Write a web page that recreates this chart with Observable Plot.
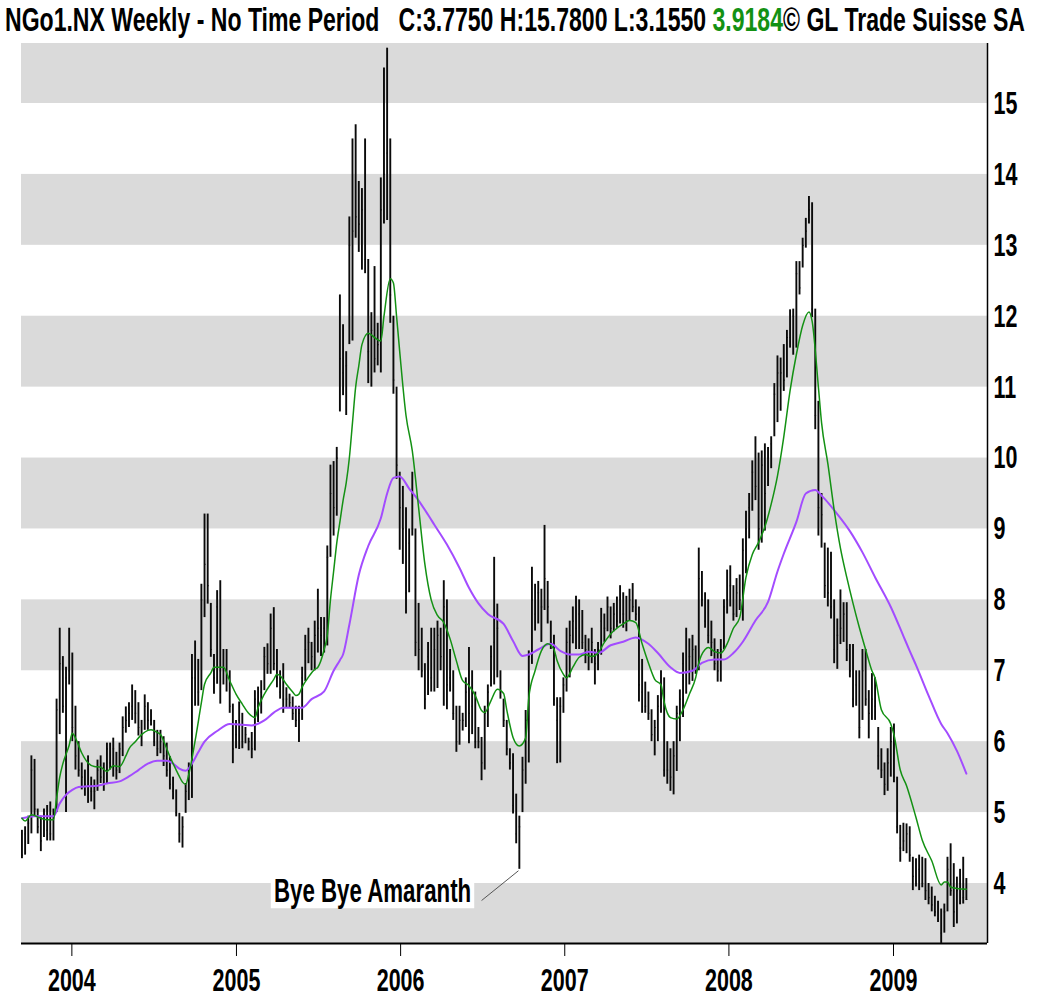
<!DOCTYPE html>
<html><head><meta charset="utf-8">
<script src="https://cdn.jsdelivr.net/npm/d3@7"></script>
<script src="https://cdn.jsdelivr.net/npm/@observablehq/plot@0.6"></script>
<style>
body{margin:0;background:#fff;}
#wrap{position:relative;width:1045px;height:997px;overflow:hidden;}
#title{position:absolute;left:5px;top:3.6px;white-space:pre;font-family:"Liberation Sans",Arial,sans-serif;font-weight:bold;font-size:21.5px;line-height:1;transform-origin:0 0;color:#000;}
</style></head><body>
<div id="wrap"><div id="chart"></div><div id="title">NGo1.NX Weekly - No Time Period   C:3.7750 H:15.7800 L:3.1550 <span style="color:#139113">3.9184</span>© GL Trade Suisse SA</div></div>
<script>
// ---- data ----
const firstWeek = "2003-09-12";
const highs = [4.75,4.8,4.95,5.8,5.75,5.05,4.95,5.05,5.1,5.15,
5.05,6.6,7.6,7.2,7.05,7.6,7.25,6.5,6.0,5.7,
5.6,5.8,5.5,5.46,5.74,5.8,5.7,5.98,5.98,6.05,
5.85,5.98,6.35,6.49,6.55,6.8,6.72,6.55,6.3,6.66,
6.55,6.45,6.3,6.16,6.16,6.07,5.98,5.79,5.5,5.32,
4.99,4.94,5.41,5.7,7.23,7.42,7.16,8.22,9.21,9.21,
7.95,7.23,8.13,8.27,7.3,7.3,7.0,6.53,6.3,6.56,
6.4,6.2,6.05,6.13,6.72,6.77,6.86,7.33,7.38,7.8,
7.89,7.3,7.0,7.1,6.76,6.67,6.63,6.5,6.5,7.05,
7.5,7.6,7.4,7.7,8.15,7.75,7.75,8.76,9.9,9.95,
10.15,12.3,11.88,11.5,13.4,14.5,14.7,13.9,13.8,14.5,
12.8,12.05,12.7,11.9,13.95,15.5,15.78,14.5,12.0,11.0,
9.8,9.6,9.3,9.0,9.8,9.0,7.95,7.6,7.1,7.4,
7.6,7.6,7.7,7.6,8.27,8.0,7.3,7.0,6.5,6.5,
6.4,6.9,7.33,7.0,6.7,6.2,6.06,6.5,6.8,7.35,
8.6,7.94,7.0,6.6,6.3,5.9,5.83,5.26,4.95,5.78,
6.44,7.28,8.46,8.22,8.26,8.15,9.05,8.26,7.7,7.5,
6.62,6.62,6.9,7.6,7.7,7.9,8.05,8.0,7.85,7.5,
7.45,7.6,7.3,7.4,7.88,7.8,8.04,7.9,7.95,8.04,
8.2,8.1,8.05,8.15,8.23,8.0,7.9,7.16,6.84,6.7,
6.45,6.3,6.65,7.0,6.9,6.0,5.9,6.0,6.5,6.73,
7.25,7.6,7.45,7.5,7.35,8.73,8.4,8.1,8.0,7.7,
7.45,7.3,7.44,8.0,8.42,8.48,8.2,8.3,8.35,8.86,
9.25,9.5,9.96,10.3,10.07,10.1,10.2,10.15,10.3,11.05,
11.44,11.41,11.6,11.8,12.09,12.1,12.77,12.77,13.1,13.38,
13.69,13.6,12.1,10.8,9.5,8.8,8.73,8.67,8.0,7.73,
8.14,7.96,7.96,7.37,7.37,7.0,7.0,7.3,7.3,6.72,
6.96,6.9,6.2,5.9,5.7,5.9,6.2,6.25,5.5,4.82,
4.85,4.84,4.8,4.37,4.35,4.4,4.37,4.35,4.0,3.95,
3.82,3.75,3.64,3.71,4.37,4.56,4.28,4.09,4.2,4.37,
4.07];
const lows = [4.35,4.4,4.55,4.7,4.95,4.7,4.45,4.65,4.6,4.6,
4.6,5.0,6.1,6.4,5.0,6.8,6.0,5.6,5.5,5.32,
5.23,5.13,5.15,5.04,5.3,5.41,5.3,5.41,5.6,5.5,
5.46,5.55,5.79,6.12,6.2,6.3,6.25,6.08,5.93,6.16,
6.16,6.22,5.93,5.79,5.83,5.65,5.5,5.32,5.18,4.94,
4.57,4.5,4.99,5.17,5.2,6.5,6.5,6.72,7.75,7.94,
7.19,6.67,6.81,6.53,6.8,6.7,6.4,5.69,5.9,5.89,
5.9,5.97,5.87,5.76,5.87,6.27,6.39,6.72,6.95,6.95,
7.0,6.76,6.6,6.4,6.48,6.48,6.3,6.2,5.99,6.3,
6.85,7.1,7.0,7.0,7.25,7.2,7.25,7.35,8.6,8.9,
9.18,10.65,10.88,10.6,11.6,11.65,13.1,12.9,12.65,12.6,
11.05,11.0,11.2,11.3,11.2,13.3,13.35,11.9,10.9,9.7,
8.7,8.5,7.8,8.1,8.9,7.2,7.0,6.9,6.45,6.65,
6.7,6.7,6.75,7.0,6.5,6.45,6.7,6.3,5.85,5.95,
6.15,6.2,5.97,6.1,5.9,5.9,5.45,5.6,6.2,6.77,
6.8,6.9,6.6,6.2,5.8,5.6,4.98,4.56,4.2,5.0,
5.4,5.7,7.09,7.56,7.66,7.4,7.85,7.66,7.3,6.5,
5.69,5.7,6.4,6.7,6.9,7.38,7.3,7.3,7.3,7.1,
7.0,7.1,6.8,7.0,7.22,7.4,7.55,7.45,7.55,7.6,
7.66,7.6,7.55,7.7,7.82,7.7,6.56,6.4,6.4,6.3,
6.0,5.8,6.0,6.4,5.5,5.4,5.3,5.25,5.58,6.0,
6.34,6.67,6.8,6.85,6.95,7.0,7.9,7.6,7.38,7.2,
7.0,6.84,6.84,7.3,7.8,7.9,7.7,7.75,7.85,7.7,
8.37,8.86,9.25,9.4,8.7,8.8,8.97,9.6,9.85,10.3,
10.5,10.66,10.94,11.13,11.55,11.45,11.55,12.3,12.68,12.96,
13.3,11.98,10.4,8.9,8.73,8.02,7.9,7.73,7.1,7.02,
7.37,7.4,7.13,6.9,6.48,6.5,6.04,6.3,6.5,6.04,
6.3,6.3,5.6,5.48,5.24,5.3,5.5,5.42,4.7,4.3,
4.45,4.42,4.3,3.9,3.95,3.9,3.94,3.76,3.7,3.6,
3.53,3.45,3.155,3.3,3.6,3.82,3.38,3.43,3.7,3.71,
3.76];
const closes = [4.4,4.7,4.85,5.6,5.05,4.8,4.6,4.95,4.75,4.7,
5.0,6.45,7.1,6.5,6.9,7.0,6.2,5.8,5.6,5.5,
5.4,5.7,5.3,5.3,5.6,5.5,5.6,5.9,5.7,5.9,
5.6,5.9,6.2,6.3,6.4,6.5,6.4,6.2,6.1,6.5,
6.3,6.3,6.0,5.9,6.0,5.8,5.6,5.4,5.3,5.0,
4.7,4.8,5.3,5.6,6.9,6.9,6.7,8.0,8.5,8.2,
7.3,6.9,7.9,7.0,7.0,6.9,6.5,5.9,6.1,6.3,
6.0,6.1,6.0,5.9,6.6,6.5,6.7,7.2,7.1,7.6,
7.1,6.9,6.7,6.6,6.6,6.55,6.4,6.3,6.4,6.9,
7.3,7.4,7.2,7.5,7.6,7.5,7.6,8.6,9.5,9.3,
10.0,11.4,11.2,11.3,13.0,13.2,13.4,13.3,13.5,12.8,
11.5,11.8,11.4,11.6,13.5,14.0,14.3,12.3,11.1,9.9,
9.3,9.0,8.1,8.8,9.0,7.4,7.3,7.0,6.6,7.2,
6.9,7.3,7.5,7.2,7.9,6.8,6.9,6.4,6.0,6.3,
6.3,6.7,6.4,6.5,6.0,6.0,5.7,6.4,6.7,7.2,
7.4,7.6,6.7,6.3,5.9,5.7,5.1,4.7,4.8,5.6,
6.3,7.2,8.0,7.8,8.1,7.9,8.3,7.9,7.4,6.6,
6.3,6.5,6.8,7.4,7.5,7.7,7.6,7.8,7.4,7.3,
7.2,7.4,7.1,7.3,7.7,7.6,7.9,7.6,7.8,7.7,
8.0,7.8,7.7,8.0,7.9,7.8,6.8,6.7,6.5,6.4,
6.1,6.2,6.5,6.6,5.6,5.6,5.5,5.8,6.4,6.6,
7.1,7.0,7.2,7.3,7.0,8.3,8.0,7.7,7.5,7.4,
7.1,7.0,7.3,7.9,8.0,8.2,7.8,8.1,8.0,8.7,
9.0,9.3,9.8,9.6,9.0,9.9,9.5,10.0,10.2,10.9,
11.2,11.2,11.1,11.7,11.7,12.0,12.6,12.4,13.0,13.2,
13.5,12.1,10.6,9.3,9.2,8.2,8.1,7.9,7.3,7.5,
7.6,7.8,7.3,7.0,6.6,6.8,6.2,7.0,6.6,6.4,
6.6,6.5,5.8,5.6,5.4,5.7,6.0,5.5,4.8,4.5,
4.6,4.7,4.4,4.1,4.0,4.2,4.0,3.9,3.8,3.7,
3.6,3.5,3.3,3.6,4.2,3.9,3.6,3.9,4.0,3.8,
3.775];
// short moving average (green): week index -> value
const greenWeeks = [0,1,3,6,8,10,11,12,13,15,16,17,19,21,23,25,27,29,31,33,34,36,38,40,41,43,44,46,47,49,50,51,52,53,55,57,58,60,61,63,64,66,68,70,72,74,75,77,80,81,82,84,86,87,88,89,91,93,94,96,97,98,99,100,101,102,103,104,105,106,107,108,110,112,114,115,117,118,119,120,122,124,126,128,130,132,134,136,138,140,142,144,146,147,149,151,153,154,156,158,160,161,163,165,167,169,170,172,173,175,177,179,181,183,185,187,189,191,193,195,197,199,201,203,204,206,208,210,212,214,215,217,218,220,222,224,226,228,230,232,234,236,238,240,242,244,246,248,250,251,253,254,256,258,260,262,264,266,268,270,271,273,276,277,279,281,284,286,289,292,293,294,295,297,300];
const greenValues = [4.92,4.88,4.97,4.92,4.9,4.9,5.2,5.5,5.69,5.95,6.12,6.05,5.84,5.7,5.65,5.64,5.58,5.66,5.65,5.8,5.9,6.0,6.1,6.16,6.17,6.13,6.1,5.9,5.79,5.6,5.51,5.43,5.4,5.54,6.01,6.55,6.81,6.97,7.05,7.05,7.05,6.86,6.67,6.53,6.4,6.34,6.48,6.67,6.88,6.95,6.93,6.81,6.7,6.65,6.67,6.77,6.91,7.02,7.05,7.3,7.5,8.0,8.4,8.8,9.1,9.4,9.65,10.0,10.5,11.0,11.3,11.6,11.76,11.7,11.65,12.0,12.53,12.47,12.0,11.5,10.6,10.1,9.3,8.5,8.0,7.78,7.68,7.45,7.14,6.86,6.79,6.65,6.44,6.41,6.58,6.74,6.68,6.45,6.06,5.94,6.05,6.62,7.0,7.28,7.38,7.3,7.14,6.95,6.9,7.05,7.19,7.23,7.2,7.25,7.4,7.52,7.6,7.66,7.71,7.68,7.38,7.11,6.88,6.8,6.56,6.34,6.32,6.45,6.67,6.9,7.11,7.3,7.33,7.27,7.25,7.38,7.6,7.75,8.32,8.64,8.81,9.03,9.35,9.75,10.3,10.95,11.46,11.87,12.06,11.93,11.0,10.5,9.92,9.27,8.73,8.32,7.95,7.61,7.3,7.0,6.9,6.45,6.25,6.1,5.6,5.38,4.93,4.61,4.32,3.98,4.02,4.02,3.95,3.93,3.92];
// long moving average (purple)
const purpleWeeks = [0,4,10,12,14,16,18,21,24,27,31,34,37,40,43,46,48,50,52,54,56,58,62,66,70,73,77,80,83,86,89,92,96,99,101,102,104,107,110,114,116,118,120,123,126,129,131,135,139,142,145,148,153,156,159,161,164,168,171,174,177,180,183,187,191,195,199,202,206,209,213,216,220,223,226,229,233,237,240,242,246,249,252,254,259,263,267,271,276,280,282,284,288,292,294,297,300];
const purpleValues = [4.92,4.95,4.95,5.13,5.25,5.32,5.36,5.37,5.38,5.41,5.44,5.51,5.6,5.69,5.73,5.73,5.69,5.62,5.59,5.69,5.85,6.0,6.15,6.25,6.24,6.23,6.3,6.41,6.48,6.48,6.48,6.6,6.71,7.0,7.15,7.23,7.65,8.35,8.76,9.15,9.5,9.72,9.74,9.57,9.4,9.2,9.06,8.78,8.45,8.17,7.95,7.8,7.66,7.42,7.21,7.23,7.3,7.38,7.28,7.23,7.23,7.27,7.25,7.36,7.41,7.47,7.38,7.25,7.05,6.97,7.0,7.11,7.16,7.16,7.25,7.41,7.71,7.97,8.4,8.65,9.1,9.5,9.55,9.47,9.21,8.97,8.67,8.32,7.9,7.49,7.28,7.08,6.65,6.25,6.12,5.87,5.55];
const yearTicks = [2004,2005,2006,2007,2008,2009];
const priceTicks = [4,5,6,7,8,9,10,11,12,13,14,15];
const bandFloors = [3,5,7,9,11,13,15];
const xDomain = ["2003-09-11","2009-07-29"];
const yDomain = [3.154,15.846];
const annotation = [{label:"Bye Bye Amaranth", textDate:"2006-06-07", textValue:3.9,
  fromDate:"2006-06-30", fromValue:3.76, toDate:"2006-09-20", toValue:4.18}];

// ---- build ----
const start = new Date(firstWeek);
const weekDate = i => d3.utcDay.offset(start, 7*i);
const bars = highs.map((h,i)=>({date:weekDate(i), high:h, low:lows[i], close:closes[i]}));
const green = greenWeeks.map((w,i)=>({date:weekDate(w), value:greenValues[i]}));
const purple = purpleWeeks.map((w,i)=>({date:weekDate(w), value:purpleValues[i]}));
const xd = xDomain.map(d=>new Date(d));
const ann = annotation.map(a=>({...a, textDate:new Date(a.textDate), fromDate:new Date(a.fromDate), toDate:new Date(a.toDate)}));

const plot = Plot.plot({
  width:1045, height:997,
  marginLeft:21, marginRight:58, marginTop:43, marginBottom:54,
  style:{fontFamily:"'Liberation Sans', Arial, sans-serif", fontSize:"21.5px", fontWeight:"bold", color:"#000", background:"#fff"},
  x:{type:"utc", domain:xd, ticks:yearTicks.map(y=>new Date(Date.UTC(y,0,1))), tickFormat:d3.utcFormat("%Y"), tickSize:13, tickPadding:16, label:null},
  y:{domain:yDomain, axis:"right", ticks:priceTicks, tickFormat:d=>String(d), tickSize:0, tickPadding:6, label:null},
  marks:[
    Plot.rect(bandFloors, {x1:()=>xd[0], x2:()=>xd[1], y1:d=>d, y2:d=>d+1, fill:"#dadada", clip:true}),
    Plot.ruleX(bars, {x:"date", y1:"low", y2:"high", stroke:"#0a0a0a", strokeWidth:1.9}),
    Plot.ruleY(bars, {y:"close", x1:"date", x2:d=>d3.utcDay.offset(d.date,3), stroke:"#0a0a0a", strokeWidth:1.2}),
    Plot.line(purple, {x:"date", y:"value", stroke:"#a34cff", strokeWidth:2, curve:"monotone-x"}),
    Plot.line(green, {x:"date", y:"value", stroke:"#139113", strokeWidth:1.5, curve:"monotone-x"}),
    Plot.link(ann, {x1:"fromDate", y1:"fromValue", x2:"toDate", y2:"toValue", stroke:"#555", strokeWidth:1}),
    Plot.text(ann, {x:"textDate", y:"textValue", text:"label", textAnchor:"end", fill:"#000", fontSize:22.3, fontWeight:"bold"}),
    Plot.ruleY([yDomain[0]], {stroke:"#000", strokeWidth:2}),
    Plot.ruleX([xd[1]], {stroke:"#000", strokeWidth:1.5})
  ]
});
document.getElementById("chart").appendChild(plot);

// glyph stretch (reference text is tall and condensed)
const K = 1.5;
const svg = plot.tagName.toLowerCase()==="svg" ? plot : plot.querySelector("svg");
svg.querySelectorAll("text").forEach(t=>{
  const bb = t.getBBox();
  const tr = t.getAttribute("transform") || "";
  if (t.textContent === annotation[0].label) {
    const r = document.createElementNS("http://www.w3.org/2000/svg","rect");
    const cy0 = bb.y + bb.height/2;
    r.setAttribute("x", bb.x-3); r.setAttribute("width", bb.width+6);
    r.setAttribute("y", cy0 - bb.height*0.72); r.setAttribute("height", bb.height*1.44);
    r.setAttribute("fill","#fff");
    if (tr) r.setAttribute("transform", tr);
    t.parentNode.insertBefore(r, t);
  }
  const cy = bb.y + bb.height/2;
  t.setAttribute("transform", `${tr} translate(0,${cy}) scale(1,${K}) translate(0,${-cy})`);
});
const title = document.getElementById("title");
const w = title.getBoundingClientRect().width;
title.style.transform = `scale(${1020/w},1.56)`;
</script>
</body></html>
